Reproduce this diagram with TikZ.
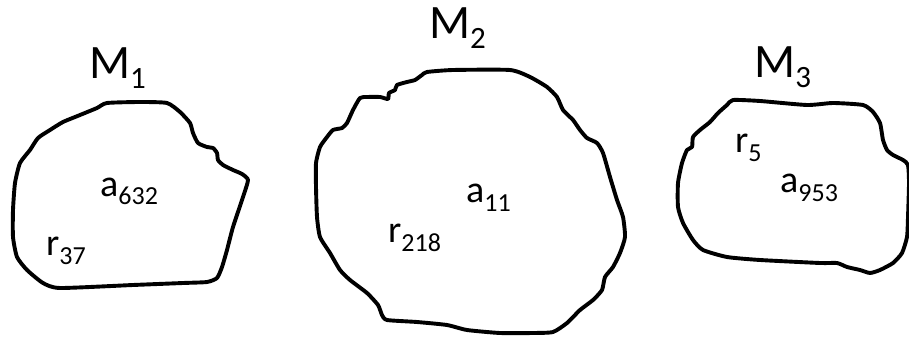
\documentclass[tikz,border=0pt]{standalone}
\usepackage{fontspec}
\setmainfont{Carlito}
\newcommand{\msub}[2]{#1\raisebox{-10pt}{\fontsize{31}{31}\selectfont #2}}
\newcommand{\isub}[2]{#1\raisebox{-9pt}{\fontsize{26}{26}\selectfont #2}}
\begin{document}
\begin{tikzpicture}[x=1pt, y=-1pt,
		blob/.style={line width=3.9pt, line join=round, black},
		mname/.style={anchor=base west, inner sep=0pt, font=\fontsize{48}{48}\selectfont},
		elem/.style={anchor=base west, inner sep=0pt, font=\fontsize{38}{38}\selectfont}]
			\useasboundingbox (0,0) rectangle (909,339);
			\draw[blob] plot[smooth cycle, tension=0.35] coordinates {(107,103) (140,102) (167,103) (180,112) (190,123) (193,133) (198,143) (207,147) (213,148) (217,153) (218,160) (223,165) (233,170) (242,174) (248,180) (243,197) (233,227) (227,250) (222,267) (217,278) (207,282) (183,283) (133,285) (60,288) (43,283) (27,270) (17,257) (13,237) (13,210) (15,183) (20,163) (30,150) (38,138) (50,130) (63,122) (80,115) (97,108)};
			\draw[blob] plot[smooth cycle, tension=0.35] coordinates {(427,72) (453,70) (510,70) (530,77) (547,87) (557,97) (563,110) (573,120) (580,130) (587,138) (597,143) (603,153) (610,177) (617,200) (623,217) (625,237) (620,253) (613,267) (605,277) (602,290) (593,300) (580,310) (567,323) (553,332) (533,333) (500,333) (467,330) (447,325) (417,322) (387,320) (382,315) (378,305) (367,293) (350,280) (340,270) (330,253) (320,237) (317,217) (316,187) (316,163) (320,147) (327,137) (333,130) (342,128) (347,123) (353,110) (360,98) (367,97) (380,97) (388,99) (389,93) (395,90) (397,85) (407,82) (415,80) (422,75)};
			\draw[blob] plot[smooth cycle, tension=0.35] coordinates {(733,100) (760,101) (807,105) (833,103) (863,105) (873,112) (880,123) (883,140) (887,150) (893,155) (903,160) (908,165) (909,183) (908,217) (907,237) (902,253) (893,263) (880,270) (870,273) (860,270) (847,267) (837,263) (820,263) (760,260) (727,257) (703,250) (693,240) (683,223) (678,207) (678,183) (682,163) (687,150) (692,147) (693,137) (700,130) (710,122) (718,113) (727,105)};
			\node[mname] (m1) at (89,79) {\msub{M}{1}};
			\node[mname] (m2) at (429,39) {\msub{M}{2}};
			\node[mname] (m3) at (754,78) {\msub{M}{3}};
			\node[elem] (a632) at (100,196) {\isub{a}{632}};
			\node[elem] (r37) at (46,255) {\isub{r}{37}};
			\node[elem] (a11) at (466,202) {\isub{a}{11}};
			\node[elem] (r218) at (388,242) {\isub{r}{218}};
			\node[elem] (r5) at (735,153) {\isub{r}{5}};
			\node[elem] (a953) at (780,193) {\isub{a}{953}};
		\end{tikzpicture}
\end{document}
